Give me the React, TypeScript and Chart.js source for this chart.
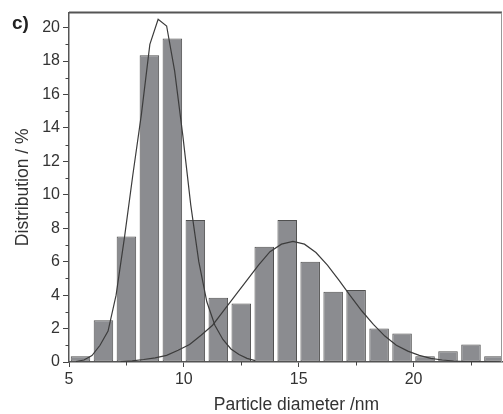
import React, { useEffect, useRef } from "react";
import { Chart, registerables } from "chart.js";

Chart.register(...registerables);

// Histogram bins (particle diameter, nm) and distribution (%)
const binCenters = [5.5, 6.5, 7.5, 8.5, 9.5, 10.5, 11.5, 12.5, 13.5, 14.5, 15.5, 16.5, 17.5, 18.5, 19.5, 20.5, 21.5, 22.5, 23.5];
const binValues = [0.35, 2.5, 7.5, 18.35, 19.35, 8.5, 3.85, 3.5, 6.9, 8.5, 6.0, 4.2, 4.3, 2.0, 1.7, 0.35, 0.65, 1.05, 0.35];

// Narrow fit curve
const fitNarrowX = [5.3, 5.65, 6.0, 6.35, 6.7, 7.05, 7.42, 7.78, 8.15, 8.52, 8.88, 9.25, 9.6, 9.95, 10.3, 10.65, 11.0, 11.35, 11.7, 12.05, 12.4, 12.75, 13.1];
const fitNarrowY = [0.03, 0.12, 0.38, 1.0, 1.85, 4.0, 7.5, 11.2, 14.8, 19.0, 20.5, 20.1, 17.4, 13.6, 9.4, 6.0, 3.6, 2.2, 1.35, 0.78, 0.45, 0.22, 0.08];

// Broad fit curve
const fitBroadX = [7.25, 7.75, 8.25, 8.75, 9.25, 9.75, 10.25, 10.75, 11.25, 11.75, 12.25, 12.75, 13.25, 13.75, 14.25, 14.75, 15.25, 15.75, 16.25, 16.75, 17.25, 17.75, 18.25, 18.75, 19.25, 19.75, 20.25, 20.75, 21.25, 21.75, 22.25, 22.75, 23.25, 23.75];
const fitBroadY = [0.03, 0.07, 0.15, 0.25, 0.4, 0.7, 1.05, 1.6, 2.2, 3.1, 4.0, 4.9, 5.8, 6.6, 7.05, 7.22, 7.05, 6.55, 5.8, 4.9, 3.95, 3.05, 2.25, 1.55, 1.0, 0.65, 0.4, 0.22, 0.12, 0.06, 0.03, 0.02, 0.01, 0.0];

const xMinorTicks = [7.5, 12.5, 17.5, 22.5];
const yMinorTicks = [1, 3, 5, 7, 9, 11, 13, 15, 17, 19];

const panelLabel = "c)";
const xTitle = "Particle diameter /nm";
const yTitle = "Distribution / %";

const FONT = '"Liberation Sans", Arial, Helvetica, sans-serif';

const decorPlugin = {
  id: "decor",
  afterDraw(chart: any) {
    const { ctx, chartArea: a, scales } = chart;
    const x = scales.x;
    const y = scales.y;
    ctx.save();
    // minor ticks
    ctx.strokeStyle = "#444";
    ctx.lineWidth = 1;
    ctx.beginPath();
    yMinorTicks.forEach((v) => {
      const py = Math.round(y.getPixelForValue(v)) + 0.5;
      ctx.moveTo(a.left, py);
      ctx.lineTo(a.left - 3.5, py);
    });
    xMinorTicks.forEach((v) => {
      const px = Math.round(x.getPixelForValue(v)) + 0.5;
      ctx.moveTo(px, a.bottom);
      ctx.lineTo(px, a.bottom + 3.5);
    });
    ctx.stroke();
    // frame: top and right
    ctx.strokeStyle = "#555";
    ctx.lineWidth = 2;
    ctx.beginPath();
    ctx.moveTo(a.left, a.top);
    ctx.lineTo(a.right, a.top);
    ctx.stroke();
    ctx.strokeStyle = "#999";
    ctx.lineWidth = 1;
    ctx.beginPath();
    ctx.moveTo(a.right - 0.5, a.top);
    ctx.lineTo(a.right - 0.5, a.bottom);
    ctx.stroke();
    // panel label
    ctx.fillStyle = "#222";
    ctx.textAlign = "left";
    ctx.textBaseline = "alphabetic";
    ctx.font = `bold 19px ${FONT}`;
    ctx.fillText(panelLabel, 12, 29);
    // x title
    ctx.fillStyle = "#333";
    ctx.textAlign = "center";
    ctx.font = `17.5px ${FONT}`;
    ctx.fillText(xTitle, 296.5, 410);
    ctx.restore();
  },
};

export default function App() {
  const canvasRef = useRef<HTMLCanvasElement | null>(null);

  useEffect(() => {
    if (!canvasRef.current) return;
    const chart = new Chart(canvasRef.current, {
      type: "bar",
      data: {
        datasets: [
          {
            type: "bar",
            label: "Histogram",
            data: binCenters.map((c, i) => ({ x: c, y: binValues[i] })),
            backgroundColor: "#8b8c90",
            borderColor: "#505050",
            borderWidth: 1,
            borderSkipped: false,
            barPercentage: 0.85,
            categoryPercentage: 1,
            order: 2,
          } as any,
          {
            type: "line",
            label: "Fit 1",
            data: fitNarrowX.map((v, i) => ({ x: v, y: fitNarrowY[i] })),
            borderColor: "#3c3c3c",
            borderWidth: 1.2,
            pointRadius: 0,
            tension: 0,
            fill: false,
            order: 1,
          } as any,
          {
            type: "line",
            label: "Fit 2",
            data: fitBroadX.map((v, i) => ({ x: v, y: fitBroadY[i] })),
            borderColor: "#3c3c3c",
            borderWidth: 1.2,
            pointRadius: 0,
            tension: 0,
            fill: false,
            order: 1,
          } as any,
        ],
      },
      plugins: [decorPlugin],
      options: {
        animation: false,
        responsive: false,
        devicePixelRatio: 1,
        layout: { padding: { top: 8, right: 1, left: 0, bottom: 0 } },
        plugins: {
          legend: { display: false },
          tooltip: { enabled: false },
        },
        scales: {
          x: {
            type: "linear",
            min: 5,
            max: 23.85,
            offset: false,
            grid: {
              display: true,
              drawOnChartArea: false,
              drawTicks: true,
              tickLength: 5,
              tickColor: "#444",
              offset: false,
            },
            border: { display: true, color: "#555", width: 1.5 },
            ticks: {
              stepSize: 5,
              includeBounds: false,
              autoSkip: false,
              maxRotation: 0,
              padding: 3,
              color: "#333",
              font: { family: FONT, size: 16 },
            },
            title: { display: false },
            afterFit: (s: any) => {
              s.height = 52;
            },
          },
          y: {
            type: "linear",
            min: 0,
            max: 20.9,
            grid: {
              display: true,
              drawOnChartArea: false,
              drawTicks: true,
              tickLength: 6,
              tickColor: "#444",
            },
            border: { display: true, color: "#555", width: 1.5 },
            ticks: {
              stepSize: 2,
              includeBounds: false,
              autoSkip: false,
              padding: 3,
              color: "#333",
              font: { family: FONT, size: 16 },
            },
            title: {
              display: true,
              text: yTitle,
              color: "#333",
              font: { family: FONT, size: 17.5 },
              padding: { top: 13, bottom: 0 },
            },
            afterFit: (s: any) => {
              s.width = 69;
            },
          },
        },
      } as any,
    });
    return () => chart.destroy();
  }, []);

  return (
    <div style={{ position: "absolute", left: 0, top: 0, width: 503, height: 414, background: "#fff" }}>
      <canvas ref={canvasRef} width={503} height={414} style={{ display: "block" }} />
    </div>
  );
}
